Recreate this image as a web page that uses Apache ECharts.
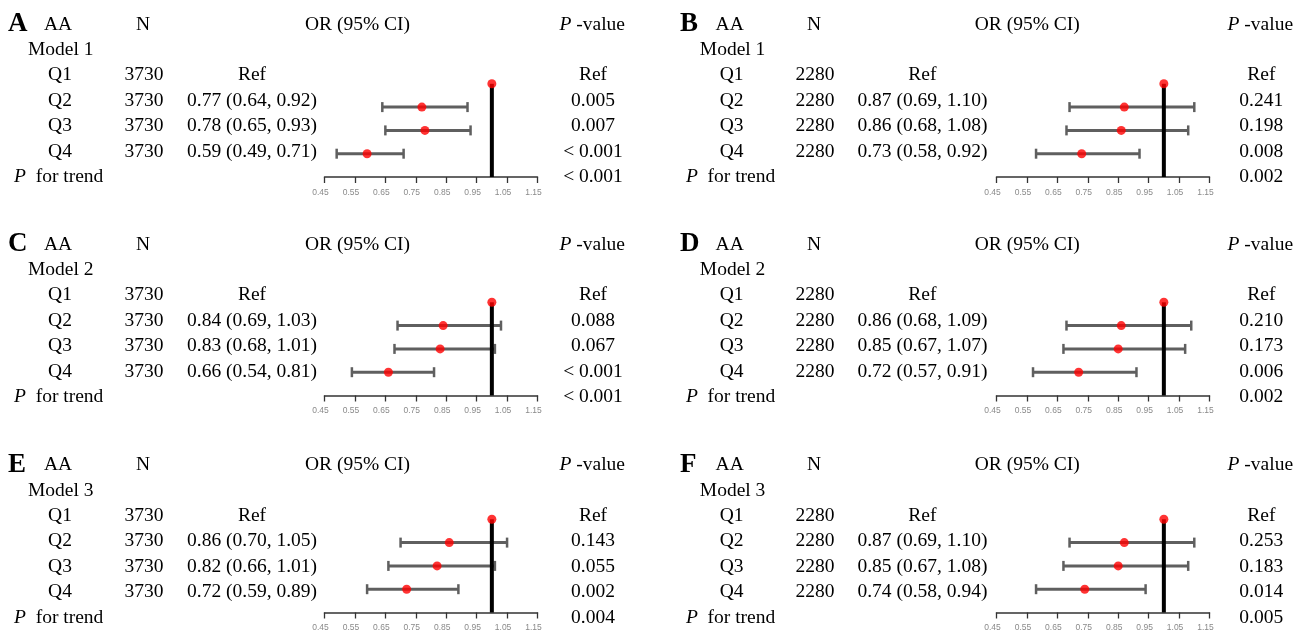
<!DOCTYPE html>
<html>
<head>
<meta charset="utf-8">
<script src="https://cdn.jsdelivr.net/npm/echarts@6/dist/echarts.min.js"></script>
<style>
html,body{margin:0;padding:0;background:#fff;}
#c{width:1308px;height:634px;}
</style>
</head>
<body>
<div id="c"></div>
<script>
// ---------------- data ----------------
const panelLetters = ['A', 'B', 'C', 'D', 'E', 'F'];
const modelNames = ['Model 1', 'Model 1', 'Model 2', 'Model 2', 'Model 3', 'Model 3'];
const sampleN = [3730, 2280, 3730, 2280, 3730, 2280];
const quartiles = ['Q1', 'Q2', 'Q3', 'Q4'];
// OR, lower and upper CI for Q2, Q3, Q4 (Q1 = reference)
const orValues = [[0.77, 0.78, 0.59], [0.87, 0.86, 0.73], [0.84, 0.83, 0.66], [0.86, 0.85, 0.72], [0.86, 0.82, 0.72], [0.87, 0.85, 0.74]];
const ciLower  = [[0.64, 0.65, 0.49], [0.69, 0.68, 0.58], [0.69, 0.68, 0.54], [0.68, 0.67, 0.57], [0.70, 0.66, 0.59], [0.69, 0.67, 0.58]];
const ciUpper  = [[0.92, 0.93, 0.71], [1.10, 1.08, 0.92], [1.03, 1.01, 0.81], [1.09, 1.07, 0.91], [1.05, 1.01, 0.89], [1.10, 1.08, 0.94]];
const pValues  = [['0.005', '0.007', '< 0.001'], ['0.241', '0.198', '0.008'], ['0.088', '0.067', '< 0.001'], ['0.210', '0.173', '0.006'], ['0.143', '0.055', '0.002'], ['0.253', '0.183', '0.014']];
const pTrend   = ['< 0.001', '0.002', '< 0.001', '0.002', '0.004', '0.005'];
const refOR = 1;
const xTicks = [0.45, 0.55, 0.65, 0.75, 0.85, 0.95, 1.05, 1.15];

// ---------------- layout ----------------
const colOffset = [0, 672];
const textTop = [24.5, 244.5, 465];
const rowGap = 25.4;
const axisY = [177, 395.5, 612.5];
const dotGap = 23.3;
const forestLeft = 324.5;
const forestWidth = 213;
const serif = "'Liberation Serif', 'Times New Roman', serif";
const fs = 19.5;
const col = { letter: 8, aa: 58, n: 143, orHead: 357.5, pHeadRight: 625, model: 28, q: 60, nVal: 144, orVal: 252, pVal: 593, trend: 14 };

const chart = echarts.init(document.getElementById('c'), null, { renderer: 'canvas' });

const grids = [], xAxes = [], yAxes = [], series = [];

function fmt(v) { return v.toFixed(2); }

panelLetters.forEach((letter, i) => {
  const c = i % 2, r = Math.floor(i / 2);
  const off = colOffset[c];

  // ---- text grid ----
  const tg = grids.length;
  grids.push({ left: off, top: textTop[r], width: 640, height: 6 * rowGap, containLabel: false });
  xAxes.push({ gridIndex: tg, type: 'value', min: 0, max: 640, show: false });
  yAxes.push({ gridIndex: tg, type: 'value', min: 0, max: 6, inverse: true, show: false });

  const items = [];
  items.push({ x: col.letter, row: 0, text: letter, align: 'left', bold: true, size: 27 });
  items.push({ x: col.aa, row: 0, text: 'AA', align: 'center' });
  items.push({ x: col.n, row: 0, text: 'N', align: 'center' });
  items.push({ x: col.orHead, row: 0, text: 'OR (95% CI)', align: 'center' });
  items.push({ x: col.pHeadRight, row: 0, text: '{i|P} -value', align: 'right' });
  items.push({ x: col.model, row: 1, text: modelNames[i], align: 'left' });
  quartiles.forEach((q, k) => {
    const row = 2 + k;
    items.push({ x: col.q, row, text: q, align: 'center' });
    items.push({ x: col.nVal, row, text: String(sampleN[i]), align: 'center' });
    items.push({ x: col.orVal, row, text: k === 0 ? 'Ref' : fmt(orValues[i][k - 1]) + ' (' + fmt(ciLower[i][k - 1]) + ', ' + fmt(ciUpper[i][k - 1]) + ')', align: 'center' });
    items.push({ x: col.pVal, row, text: k === 0 ? 'Ref' : pValues[i][k - 1], align: 'center' });
  });
  items.push({ x: col.trend, row: 6, text: '{i|P}  for trend', align: 'left' });
  items.push({ x: col.pVal, row: 6, text: pTrend[i], align: 'center' });

  series.push({
    type: 'custom', xAxisIndex: tg, yAxisIndex: tg, clip: false, silent: true,
    data: items.map(it => [it.x, it.row]),
    renderItem: (params, api) => {
      const it = items[params.dataIndex];
      const p = api.coord([api.value(0), api.value(1)]);
      const size = it.size || fs;
      return {
        type: 'text', x: p[0], y: p[1],
        style: {
          text: it.text, fill: '#000', fontFamily: serif, fontSize: size,
          fontWeight: it.bold ? 'bold' : 'normal',
          align: it.align, verticalAlign: 'middle',
          rich: { i: { fontStyle: 'italic', fontFamily: serif, fontSize: size, fill: '#000' } }
        }
      };
    }
  });

  // ---- forest grid ----
  const fg = grids.length;
  grids.push({ left: off + forestLeft, top: axisY[r] - 5 * dotGap, width: forestWidth, height: 5 * dotGap, containLabel: false });
  xAxes.push({
    gridIndex: fg, type: 'value', min: 0.45, max: 1.15,
    axisLine: { show: true, onZero: false, lineStyle: { color: '#333', width: 1.5 } },
    axisTick: { show: true, inside: false, length: 6, customValues: xTicks, lineStyle: { color: '#333', width: 1.3 } },
    axisLabel: { show: true, customValues: xTicks, margin: 11, formatter: v => v.toFixed(2), fontSize: 8.5, color: '#8a8a8a', fontFamily: "'Liberation Sans', Arial, sans-serif", padding: [0, 8, 0, 0] },
    splitLine: { show: false }
  });
  yAxes.push({ gridIndex: fg, type: 'value', min: 0, max: 5, inverse: true, show: false });

  // CI bars
  series.push({
    type: 'custom', xAxisIndex: fg, yAxisIndex: fg, clip: false, silent: true, z: 2,
    data: orValues[i].map((v, k) => [ciLower[i][k], ciUpper[i][k], k + 2]),
    encode: { x: [0, 1], y: 2 },
    renderItem: (params, api) => {
      const a = api.coord([api.value(0), api.value(2)]);
      const b = api.coord([api.value(1), api.value(2)]);
      const stroke = '#5f5f5f';
      const cap = 5;
      return {
        type: 'group', children: [
          { type: 'line', shape: { x1: a[0], y1: a[1], x2: b[0], y2: b[1] }, style: { stroke, lineWidth: 3 } },
          { type: 'line', shape: { x1: a[0], y1: a[1] - cap, x2: a[0], y2: a[1] + cap }, style: { stroke, lineWidth: 2.5 } },
          { type: 'line', shape: { x1: b[0], y1: b[1] - cap, x2: b[0], y2: b[1] + cap }, style: { stroke, lineWidth: 2.5 } }
        ]
      };
    }
  });

  // reference line at OR = 1
  series.push({
    type: 'custom', xAxisIndex: fg, yAxisIndex: fg, clip: false, silent: true, z: 3,
    data: [[refOR, 1, 5]],
    encode: { x: 0, y: [1, 2] },
    renderItem: (params, api) => {
      const a = api.coord([api.value(0), api.value(1)]);
      const b = api.coord([api.value(0), api.value(2)]);
      return { type: 'line', shape: { x1: a[0], y1: a[1], x2: b[0], y2: b[1] }, style: { stroke: '#000', lineWidth: 4 } };
    }
  });

  // point estimates
  series.push({
    type: 'scatter', xAxisIndex: fg, yAxisIndex: fg, silent: true, z: 4,
    symbol: 'circle', symbolSize: 9,
    itemStyle: { color: '#ff0000' },
    data: [[refOR, 1]].concat(orValues[i].map((v, k) => [v, k + 2]))
  });
});

chart.setOption({
  animation: false,
  backgroundColor: '#fff',
  grid: grids,
  xAxis: xAxes,
  yAxis: yAxes,
  series: series
});
</script>
</body>
</html>
